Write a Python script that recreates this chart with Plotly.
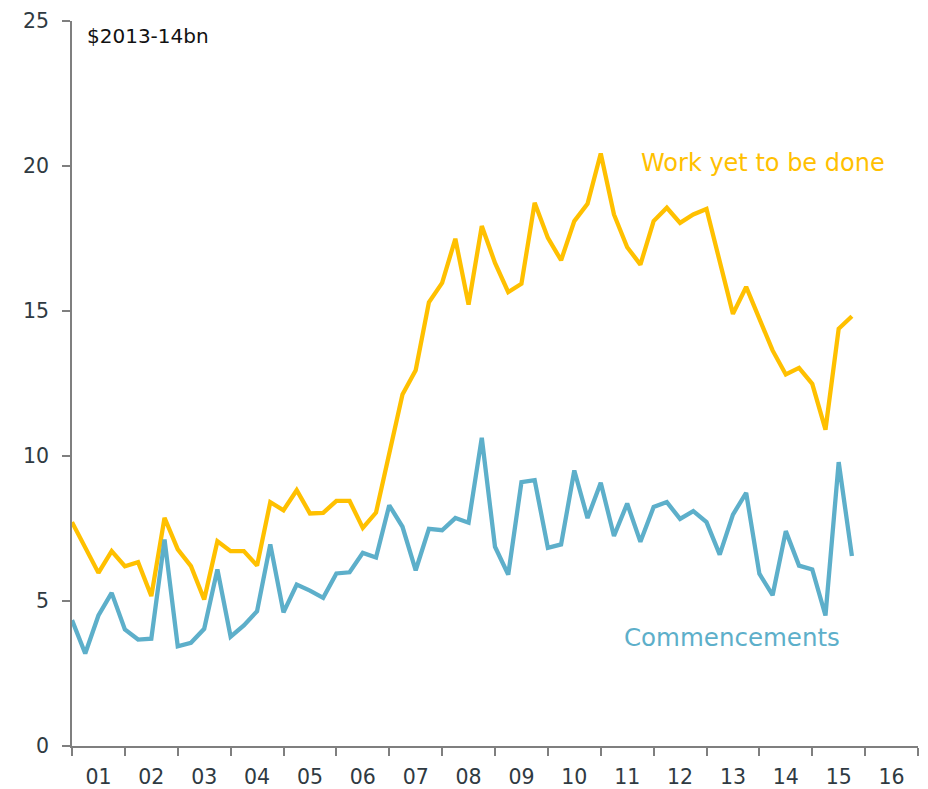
import plotly.graph_objects as go

# Quarterly data, Sep-2000 quarter onwards (60 quarters)
quarter_index = list(range(60))

work_yet_to_be_done = [
    7.72, 6.84, 5.97, 6.72, 6.20, 6.34, 5.17, 7.87, 6.78, 6.20,
    5.05, 7.06, 6.72, 6.72, 6.22, 8.41, 8.13, 8.82, 8.02, 8.04,
    8.45, 8.45, 7.52, 8.05, 10.11, 12.12, 12.96, 15.30, 15.97, 17.49,
    15.22, 17.93, 16.66, 15.65, 15.94, 18.73, 17.52, 16.75, 18.10, 18.70,
    20.43, 18.33, 17.20, 16.60, 18.10, 18.56, 18.04, 18.33, 18.52, 16.66,
    14.90, 15.83, 14.71, 13.64, 12.81, 13.04, 12.49, 10.91, 14.39, 14.82,
]

commencements = [
    4.34, 3.19, 4.50, 5.28, 4.02, 3.67, 3.70, 7.12, 3.44, 3.56,
    4.04, 6.09, 3.77, 4.16, 4.65, 6.95, 4.61, 5.57, 5.36, 5.11,
    5.95, 5.99, 6.66, 6.50, 8.30, 7.56, 6.06, 7.49, 7.44, 7.86,
    7.70, 10.63, 6.87, 5.91, 9.10, 9.17, 6.83, 6.95, 9.50, 7.86,
    9.08, 7.24, 8.36, 7.04, 8.24, 8.41, 7.83, 8.10, 7.72, 6.60,
    7.98, 8.73, 5.94, 5.20, 7.41, 6.22, 6.09, 4.50, 9.79, 6.55,
]

year_labels = ["01", "02", "03", "04", "05", "06", "07", "08",
               "09", "10", "11", "12", "13", "14", "15", "16"]
year_label_pos = [2 + 4 * i for i in range(len(year_labels))]

y_ticks = [0, 5, 10, 15, 20, 25]

YELLOW = "#FFC000"
BLUE = "#5DAFCA"
TEXT = "#2f3a42"
AXIS = "#7f7f7f"
FONT = "DejaVu Sans"

fig = go.Figure()
fig.add_trace(go.Scatter(x=quarter_index, y=work_yet_to_be_done, mode="lines",
                         line=dict(color=YELLOW, width=4.3), name="Work yet to be done"))
fig.add_trace(go.Scatter(x=quarter_index, y=commencements, mode="lines",
                         line=dict(color=BLUE, width=4.3), name="Commencements"))

fig.update_layout(
    width=928, height=789,
    margin=dict(l=72, r=10, t=21, b=43),
    paper_bgcolor="white", plot_bgcolor="white",
    showlegend=False,
    font=dict(family=FONT, color=TEXT, size=20),
    xaxis=dict(
        range=[0, 64], showgrid=False, zeroline=False, automargin=False,
        showline=True, linecolor=AXIS, linewidth=1.5,
        tickmode="array", tickvals=year_label_pos, ticktext=year_labels,
        ticks="", ticklabelstandoff=12,
        tickfont=dict(size=20.5, color=TEXT, family=FONT),
        minor=dict(tick0=0, dtick=4, ticks="outside", ticklen=8,
                   tickcolor=AXIS, tickwidth=1.5, showgrid=False),
    ),
    yaxis=dict(
        range=[0, 25], showgrid=False, zeroline=False, automargin=False,
        showline=True, linecolor=AXIS, linewidth=1.5,
        tickmode="array", tickvals=y_ticks,
        ticks="outside", ticklen=8, tickcolor=AXIS, tickwidth=1.5,
        ticklabelstandoff=9,
        tickfont=dict(size=20.5, color=TEXT, family=FONT),
    ),
    annotations=[
        dict(x=0.98, y=24.5, xref="x", yref="y", text="$2013-14bn",
             showarrow=False, xanchor="left", yanchor="middle",
             font=dict(size=20, color="#111111", family=FONT)),
        dict(x=52.3, y=20.12, xref="x", yref="y", text="Work yet to be done",
             showarrow=False, xanchor="center", yanchor="middle",
             font=dict(size=24, color=YELLOW, family=FONT)),
        dict(x=49.96, y=3.74, xref="x", yref="y", text="Commencements",
             showarrow=False, xanchor="center", yanchor="middle",
             font=dict(size=24.5, color=BLUE, family=FONT)),
    ],
)

fig.write_html("out.html", config={"displayModeBar": False},
               post_script="document.body.style.margin='0';document.body.style.overflow='hidden';")
